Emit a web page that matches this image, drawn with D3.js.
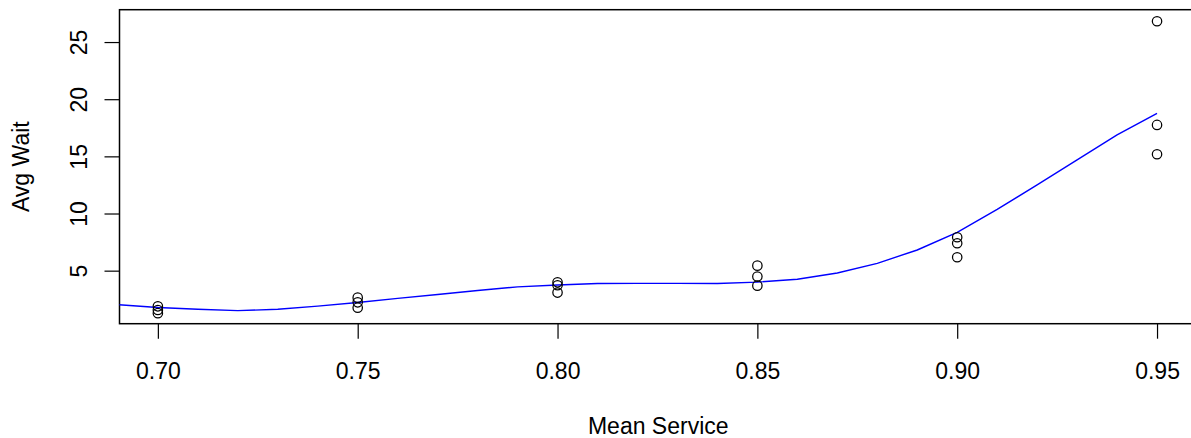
<!DOCTYPE html>
<html>
<head>
<meta charset="utf-8">
<script src="https://cdn.jsdelivr.net/npm/d3@7"></script>
<style>
  html, body { margin: 0; padding: 0; background: #fff; }
  svg { display: block; }
  text { font-family: "Liberation Sans", Arial, sans-serif; fill: #000; }
</style>
</head>
<body>
<svg id="chart" width="1191" height="438"></svg>
<script>
// Observed points
const meanService = [0.70, 0.70, 0.70, 0.75, 0.75, 0.75, 0.80, 0.80, 0.80,
                     0.85, 0.85, 0.85, 0.90, 0.90, 0.90, 0.95, 0.95, 0.95];
const avgWait     = [1.88, 1.56, 1.28, 2.64, 2.23, 1.76, 3.98, 3.72, 3.08,
                     5.44, 4.48, 3.69, 7.92, 7.40, 6.17, 26.82, 17.75, 15.18];

// Smoothed fit (blue line)
const smoothX = [0.69, 0.70, 0.71, 0.72, 0.73, 0.74, 0.75, 0.76, 0.77, 0.78, 0.79,
                 0.80, 0.81, 0.82, 0.83, 0.84, 0.85, 0.86, 0.87, 0.88, 0.89,
                 0.90, 0.91, 0.92, 0.93, 0.94, 0.95];
const smoothY = [2.02, 1.78, 1.63, 1.50, 1.62, 1.90, 2.22, 2.58, 2.92, 3.27, 3.58,
                 3.75, 3.88, 3.89, 3.89, 3.88, 4.00, 4.25, 4.80, 5.64, 6.81,
                 8.35, 10.37, 12.50, 14.69, 16.87, 18.77];

const xTicks = [0.70, 0.75, 0.80, 0.85, 0.90, 0.95];
const yTicks = [5, 10, 15, 20, 25];
const xTitle = "Mean Service";
const yTitle = "Avg Wait";

const svg = d3.select("#chart");
const pL = 119.5, pR = 1197, pT = 9.7, pB = 323.7;

const x = d3.scaleLinear().domain([0.6904, 0.96]).range([pL, pR]);
const y = d3.scaleLinear().domain([0.36, 27.83]).range([pB, pT]);

svg.append("defs").append("clipPath").attr("id", "plotclip")
  .append("rect").attr("x", pL).attr("y", pT)
  .attr("width", pR - pL).attr("height", pB - pT);

// X axis
const xAxis = d3.axisBottom(x).tickValues(xTicks).tickFormat(d3.format(".2f"))
  .tickSize(15).tickPadding(0);
const gx = svg.append("g").attr("transform", `translate(0,${pB})`).call(xAxis);
gx.select(".domain").remove();
gx.selectAll(".tick line").attr("stroke", "#000").attr("stroke-width", 1.2);
gx.selectAll(".tick text").attr("font-size", 23).attr("dy", null)
  .attr("y", 55).attr("font-family", "Liberation Sans, Arial, sans-serif");

// Y axis
const yAxis = d3.axisLeft(y).tickValues(yTicks).tickFormat(d3.format("d"))
  .tickSize(15).tickPadding(0);
const gy = svg.append("g").attr("transform", `translate(${pL},0)`).call(yAxis);
gy.select(".domain").remove();
gy.selectAll(".tick line").attr("stroke", "#000").attr("stroke-width", 1.2);
gy.selectAll(".tick text")
  .attr("font-size", 23)
  .attr("font-family", "Liberation Sans, Arial, sans-serif")
  .attr("x", null).attr("dy", null)
  .attr("text-anchor", "middle")
  .attr("transform", "translate(-32.5,0) rotate(-90)");

// Box
svg.append("rect").attr("x", pL).attr("y", pT)
  .attr("width", pR - pL).attr("height", pB - pT)
  .attr("fill", "none").attr("stroke", "#000").attr("stroke-width", 1.5);

// Smooth line
const line = d3.line().x(d => x(d[0])).y(d => y(d[1]));
svg.append("path")
  .datum(d3.zip(smoothX, smoothY))
  .attr("clip-path", "url(#plotclip)")
  .attr("d", line)
  .attr("fill", "none").attr("stroke", "#0000ff").attr("stroke-width", 1.4);

// Points
svg.append("g").selectAll("circle")
  .data(d3.zip(meanService, avgWait))
  .join("circle")
  .attr("cx", d => x(d[0])).attr("cy", d => y(d[1]))
  .attr("r", 4.7)
  .attr("fill", "none").attr("stroke", "#000").attr("stroke-width", 1.25);

// Titles
svg.append("text").attr("x", (pL + pR) / 2).attr("y", 434)
  .attr("text-anchor", "middle").attr("font-size", 23).text(xTitle);
svg.append("text")
  .attr("transform", `translate(29,${(pT + pB) / 2}) rotate(-90)`)
  .attr("text-anchor", "middle").attr("font-size", 23).text(yTitle);
</script>
</body>
</html>
